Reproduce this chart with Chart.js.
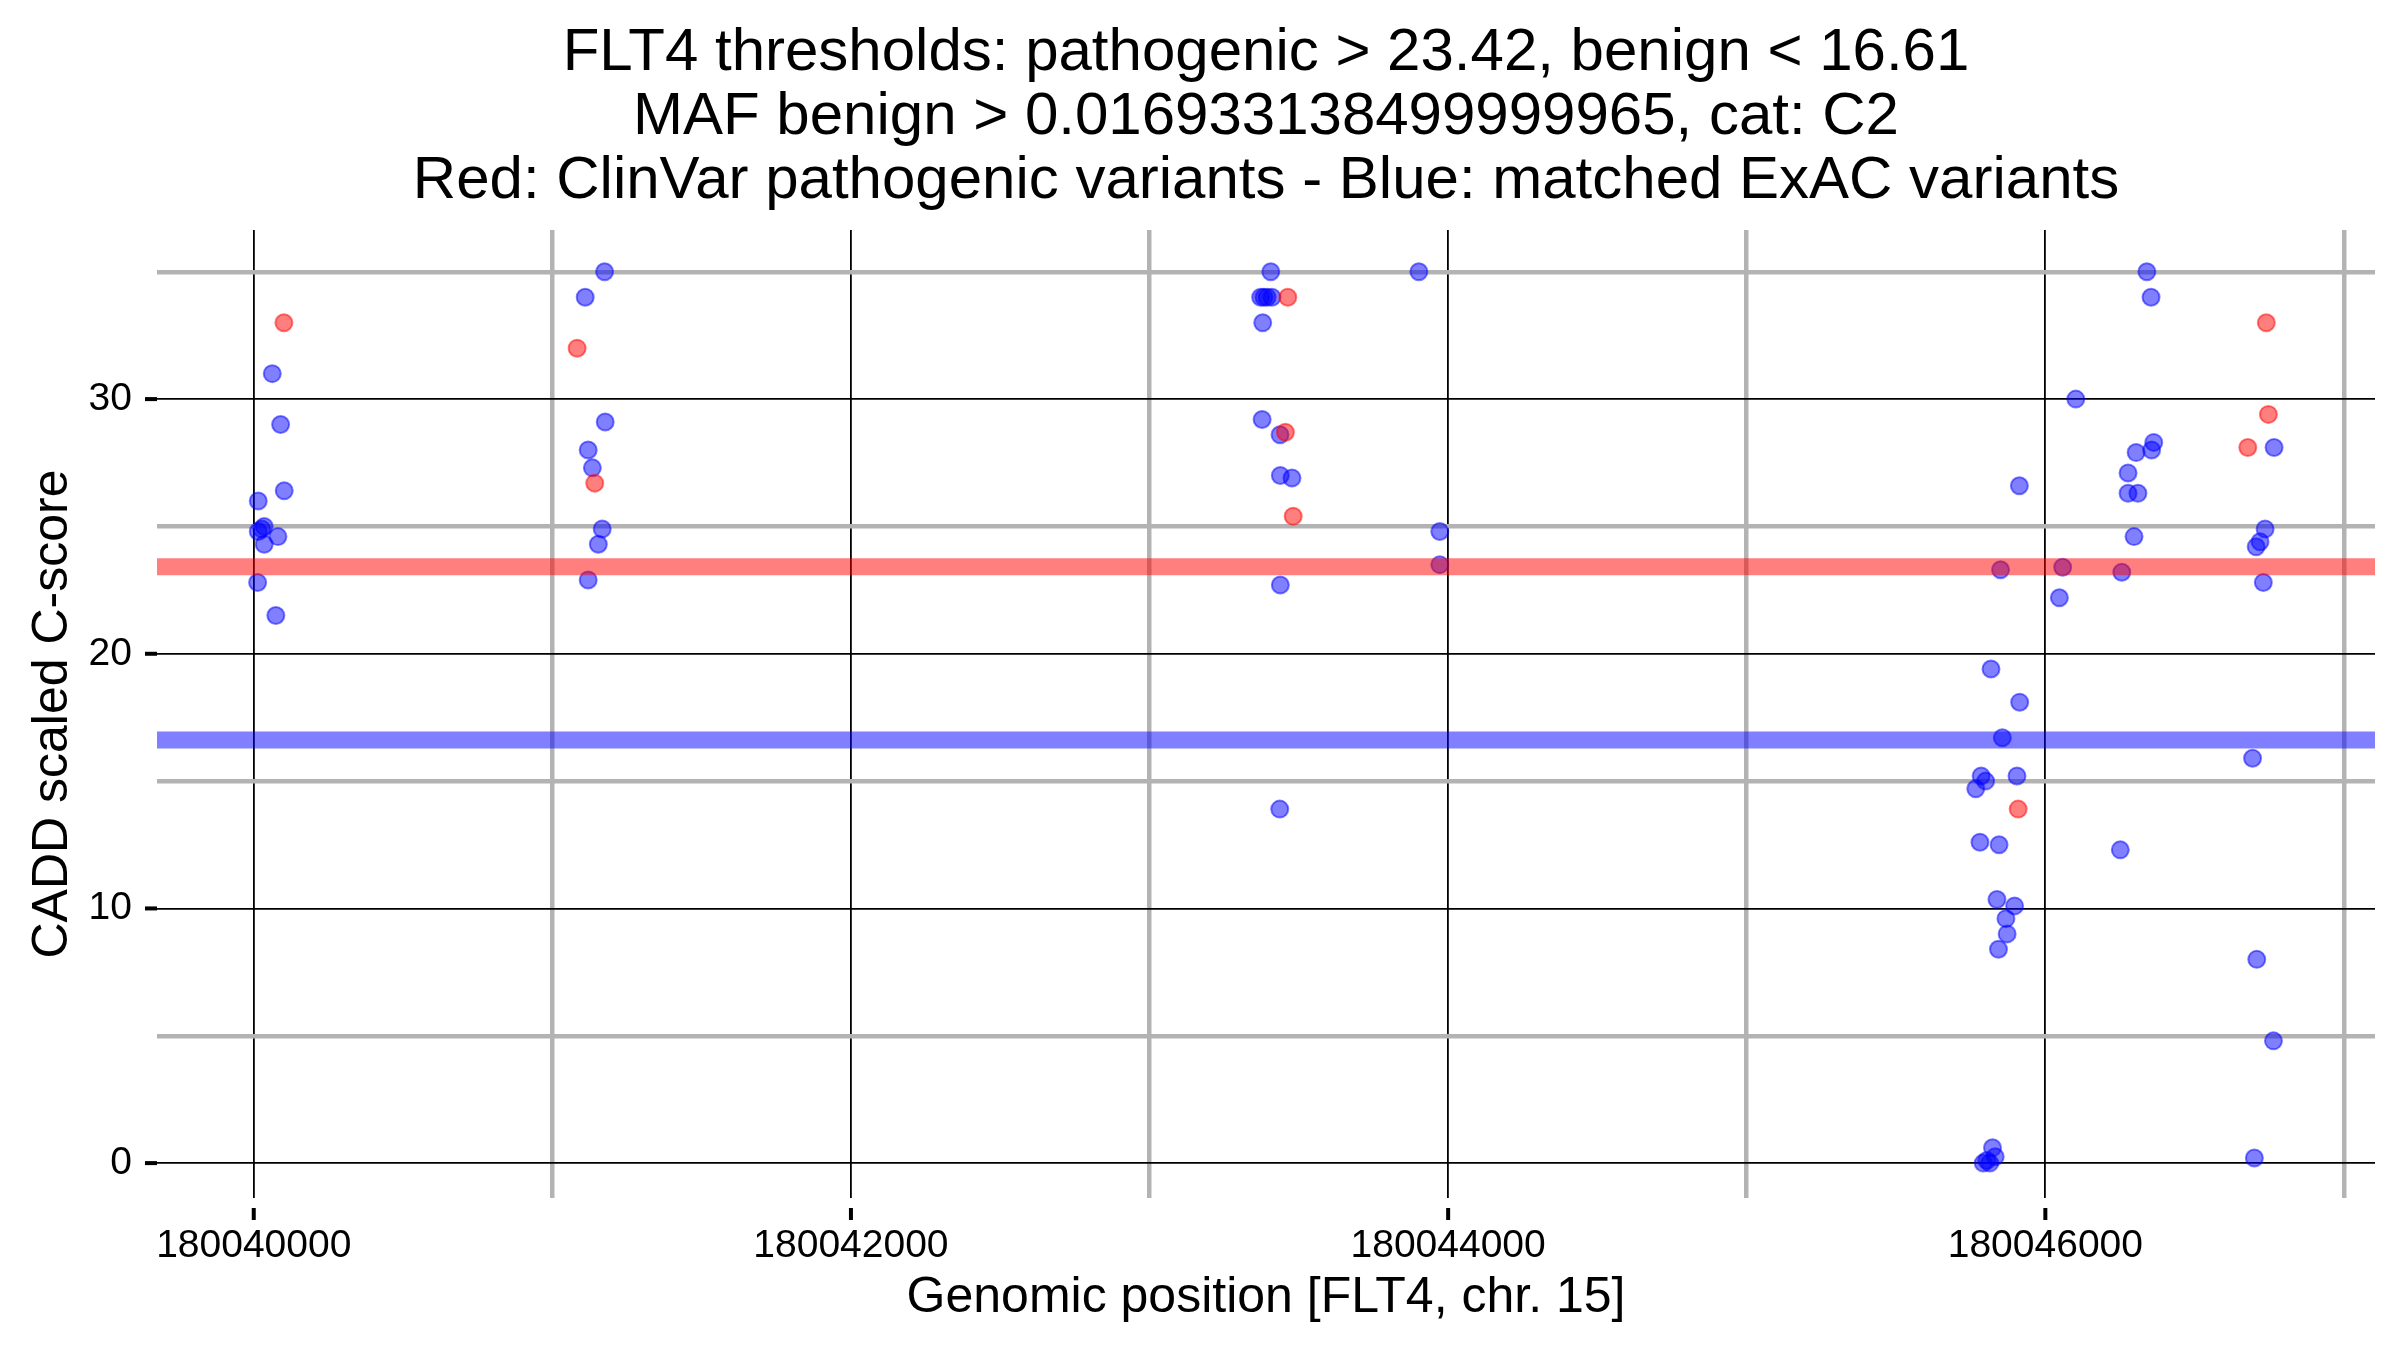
<!DOCTYPE html>
<html>
<head>
<meta charset="utf-8">
<title>FLT4 CADD scores</title>
<script src="https://cdn.jsdelivr.net/npm/chart.js@4.4.1/dist/chart.umd.min.js"></script>
<style>
  html, body { margin: 0; padding: 0; background: #fff; }
  #wrap { width: 2400px; height: 1350px; }
</style>
</head>
<body>
<div id="wrap"><canvas id="cadd" width="2400" height="1350"></canvas></div>
<script>
const titleLines = [
    'FLT4 thresholds: pathogenic > 23.42, benign < 16.61',
    'MAF benign > 0.016933138499999965, cat: C2',
    'Red: ClinVar pathogenic variants - Blue: matched ExAC variants'
];

// thresholds
const pathogenicThreshold = 23.42;
const benignThreshold = 16.61;

// axis ranges and ticks
const xMin = 180039676, xMax = 180047104;
const yMin = -1.37, yMax = 36.64;
const xTicks = [180040000, 180041000, 180042000, 180043000, 180044000, 180045000, 180046000, 180047000];
const yTicks = [0, 5, 10, 15, 20, 25, 30, 35];
const xLabelTicks = [180040000, 180042000, 180044000, 180046000];
const yLabelTicks = [0, 10, 20, 30];

// ClinVar pathogenic variants (red)
const clinvarPos = [180040101, 180041083, 180041142, 180043463, 180043455, 180043481,
    180045909, 180046740, 180046747, 180046678];
const clinvarScore = [33.0, 32.0, 26.7, 34.0, 28.7, 25.4, 13.9, 33.0, 29.4, 28.1];

// matched ExAC variants (blue)
const exacPos = [
    180040062, 180040090, 180040102, 180040015, 180040035, 180040027, 180040015, 180040081, 180040035, 180040013, 180040074,
    180041175, 180041110, 180041177, 180041120, 180041134, 180041167, 180041154, 180041120,
    180043406, 180043372, 180043383, 180043394, 180043410, 180043379, 180043377, 180043437, 180043438, 180043477, 180043438, 180043436,
    180043902, 180043972, 180043972,
    180045818, 180045914, 180045856, 180045785, 180045800, 180045767, 180045905, 180045781, 180045845, 180045838, 180045897,
    180045868, 180045872, 180045843, 180045823, 180045804, 180045814, 180045832, 180045792, 180045913, 180045850,
    180046340, 180046354, 180046102, 180046363, 180046356, 180046304, 180046277, 180046277, 180046310, 180046297, 180046058,
    180046256, 180046047, 180046251,
    180046766, 180046736, 180046719, 180046706, 180046730, 180046694, 180046708, 180046764, 180046700
];
const exacScore = [
    31.0, 29.0, 26.4, 26.0, 25.0, 24.9, 24.8, 24.6, 24.3, 22.8, 21.5,
    35.0, 34.0, 29.1, 28.0, 27.3, 24.9, 24.3, 22.9,
    35.0, 34.0, 34.0, 34.0, 34.0, 33.0, 29.2, 28.6, 27.0, 26.9, 22.7, 13.9,
    35.0, 24.8, 23.5,
    19.4, 18.1, 16.7, 15.2, 15.0, 14.7, 15.2, 12.6, 12.5, 10.35, 10.1,
    9.6, 9.0, 8.4, 0.6, 0.1, 0.0, 0.25, 0.0, 26.6, 23.3,
    35.0, 34.0, 30.0, 28.3, 28.0, 27.9, 27.1, 26.3, 26.3, 24.6, 23.4,
    23.2, 22.2, 12.3,
    28.1, 24.9, 24.4, 24.2, 22.8, 15.9, 8.0, 4.8, 0.2
];

const FONT = '"Liberation Sans", Arial, Helvetica, sans-serif';

const toPoints = (xs, ys) => xs.map((x, i) => ({ x: x, y: ys[i] }));
const hline = (v) => [{ x: xMin, y: v }, { x: xMax, y: v }];

// three line title centred over the panel, like ggplot does
const titlePlugin = {
    id: 'panelTitle',
    afterDraw(chart) {
        const { ctx, chartArea } = chart;
        const cx = (chartArea.left + chartArea.right) / 2;
        ctx.save();
        ctx.font = '60px ' + FONT;
        ctx.fillStyle = '#000';
        ctx.textAlign = 'center';
        ctx.textBaseline = 'alphabetic';
        titleLines.forEach((t, i) => ctx.fillText(t, cx, 70 + i * 64));
        ctx.restore();
    }
};

// short tick marks with a small gap below the panel
const tickMarks = {
    id: 'tickMarks',
    afterDraw(chart) {
        const { ctx, chartArea, scales } = chart;
        ctx.save();
        ctx.fillStyle = '#000';
        yLabelTicks.forEach(v => {
            const y = scales.y.getPixelForValue(v);
            ctx.fillRect(chartArea.left - 12, y - 2, 12, 4);
        });
        xLabelTicks.forEach(v => {
            const x = scales.x.getPixelForValue(v);
            ctx.fillRect(x - 2, chartArea.bottom + 10, 4, 12);
        });
        ctx.restore();
    }
};

const isMajorX = v => v % 2000 === 0;
const isMajorY = v => v % 10 === 0;

new Chart(document.getElementById('cadd'), {
    type: 'scatter',
    data: {
        datasets: [
            {
                type: 'line',
                data: hline(pathogenicThreshold),
                borderColor: 'rgba(255, 0, 0, 0.5)',
                borderWidth: 17,
                pointRadius: 0,
                borderCapStyle: 'butt',
                order: 0
            },
            {
                type: 'line',
                data: hline(benignThreshold),
                borderColor: 'rgba(0, 0, 255, 0.5)',
                borderWidth: 17,
                pointRadius: 0,
                borderCapStyle: 'butt',
                order: 0
            },
            {
                label: 'ClinVar pathogenic',
                data: toPoints(clinvarPos, clinvarScore),
                backgroundColor: 'rgba(255, 0, 0, 0.5)',
                borderColor: 'rgba(255, 0, 0, 0.5)',
                borderWidth: 2,
                pointRadius: 8.5,
                order: 1
            },
            {
                label: 'matched ExAC',
                data: toPoints(exacPos, exacScore),
                backgroundColor: 'rgba(0, 0, 255, 0.5)',
                borderColor: 'rgba(0, 0, 255, 0.5)',
                borderWidth: 2,
                pointRadius: 8.5,
                order: 2
            }
        ]
    },
    options: {
        responsive: false,
        animation: false,
        devicePixelRatio: 1,
        layout: { padding: { top: 230, right: 25, left: 0, bottom: 0 } },
        plugins: {
            legend: { display: false },
            tooltip: { enabled: false },
            title: { display: false }
        },
        scales: {
            x: {
                type: 'linear',
                min: xMin,
                max: xMax,
                afterBuildTicks: s => { s.ticks = xTicks.map(v => ({ value: v })); },
                afterFit: s => { s.height = 152; },
                border: { display: false },
                grid: {
                    drawTicks: false,
                    color: c => isMajorX(c.tick.value) ? '#000' : '#b3b3b3',
                    lineWidth: c => isMajorX(c.tick.value) ? 1.8 : 4.5
                },
                ticks: {
                    autoSkip: false,
                    maxRotation: 0,
                    padding: 25,
                    color: '#000',
                    font: { family: FONT, size: 39, lineHeight: 1.2 },
                    callback: v => isMajorX(v) ? String(v) : ''
                },
                title: {
                    display: true,
                    text: 'Genomic position [FLT4, chr. 15]',
                    color: '#000',
                    font: { family: FONT, size: 50, lineHeight: 1.2 },
                    padding: { top: 0, bottom: 22 }
                }
            },
            y: {
                type: 'linear',
                min: yMin,
                max: yMax,
                afterBuildTicks: s => { s.ticks = yTicks.map(v => ({ value: v })); },
                afterFit: s => { s.width = 157; },
                border: { display: false },
                grid: {
                    drawTicks: false,
                    color: c => isMajorY(c.tick.value) ? '#000' : '#b3b3b3',
                    lineWidth: c => isMajorY(c.tick.value) ? 1.8 : 4.5
                },
                ticks: {
                    autoSkip: false,
                    padding: 25,
                    color: '#000',
                    font: { family: FONT, size: 39, lineHeight: 1.2 },
                    callback: v => isMajorY(v) ? String(v) : ''
                },
                title: {
                    display: true,
                    text: 'CADD scaled C-score',
                    color: '#000',
                    font: { family: FONT, size: 50, lineHeight: 1.2 },
                    padding: { top: 23, bottom: 0 }
                }
            }
        }
    },
    plugins: [titlePlugin, tickMarks]
});
</script>
</body>
</html>
